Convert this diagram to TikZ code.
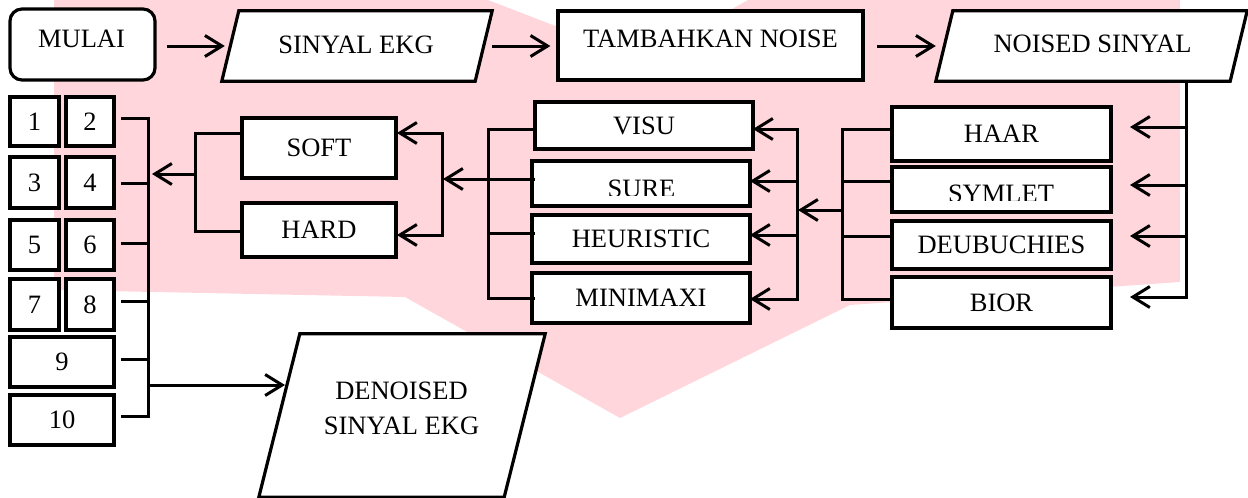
\documentclass[tikz,border=0pt]{standalone}
\usepackage{fontspec}
\setmainfont{Liberation Serif}
\usetikzlibrary{arrows.meta}
\definecolor{wm}{RGB}{255,214,220}
\begin{document}
\begin{tikzpicture}[x=1pt,y=-1pt,
  box/.style={draw, line width=3.2pt, fill=white, inner sep=0pt, font=\fontsize{26.5}{30}\selectfont},
  pframe/.style={inner sep=0pt},
  para/.style={draw, line width=3.2pt, fill=white, line join=miter},
  lbl/.style={inner sep=0pt, font=\fontsize{26.5}{30}\selectfont},
  ln/.style={line width=3pt, line cap=rect},
  arr/.style={line width=3pt, line cap=rect, -{Straight Barb[length=17pt,width=21pt]}},
]
\useasboundingbox (0,0) rectangle (1248,498);
% watermark
\fill[wm] (54,0) -- (488,0) -- (558,27) -- (700,27) -- (748,0) -- (1180,0) -- (1180,282)
  -- (850,305) -- (620,418) -- (405,297) -- (54,290) -- cycle;

% ---------- top row ----------
\node[box, rounded corners=12pt, minimum width=145pt, minimum height=71pt] (mulai) at (82.5,44.5) {};
\node[lbl] (mulaiT) at (81.5,39) {MULAI};

\node[pframe, minimum width=270pt, minimum height=70pt] (sinyal) at (357,46) {};
\draw[para] ([xshift=17pt]sinyal.north west) -- (sinyal.north east) -- ([xshift=-17pt]sinyal.south east) -- (sinyal.south west) -- cycle;
\node[lbl] (sinyalT) at (356,45) {SINYAL EKG};

\node[box, minimum width=305pt, minimum height=69pt] (tambah) at (710.5,45.5) {};
\node[lbl] (tambahT) at (710.5,38.5) {TAMBAHKAN NOISE};

\node[pframe, minimum width=311pt, minimum height=70pt] (noised) at (1091.5,46) {};
\draw[para] ([xshift=17pt]noised.north west) -- (noised.north east) -- ([xshift=-17pt]noised.south east) -- (noised.south west) -- cycle;
\node[lbl] (noisedT) at (1092.5,44) {NOISED SINYAL};

% ---------- wavelets ----------
\node[box, minimum width=219pt, minimum height=54pt] (haar) at (1001.5,134) {HAAR};
\node[box, minimum width=219pt, minimum height=45pt] (symlet) at (1001.5,189.5) {};
\begin{scope}
  \clip (892,167) rectangle (1111,200.5);
  \node[lbl] (symletT) at (1001,194) {SYMLET};
\end{scope}
\node[box, minimum width=219pt, minimum height=48pt] (deub) at (1001.5,245) {DEUBUCHIES};
\node[box, minimum width=219pt, minimum height=51pt] (bior) at (1001.5,302.5) {BIOR};

% ---------- thresholds ----------
\node[box, minimum width=218pt, minimum height=47pt] (visu) at (644,125.5) {VISU};
\node[box, minimum width=218pt, minimum height=45pt] (sure) at (641,183.5) {};
\begin{scope}
  \clip (532,161) rectangle (750,195);
  \node[lbl] (sureT) at (641.5,188.5) {SURE};
\end{scope}
\node[box, minimum width=218pt, minimum height=48pt] (heur) at (641,239) {HEURISTIC};
\node[box, minimum width=218pt, minimum height=50pt] (mini) at (641,298) {MINIMAXI};

% ---------- soft / hard ----------
\node[box, minimum width=154pt, minimum height=60pt] (soft) at (319,148) {SOFT};
\node[box, minimum width=154pt, minimum height=54pt] (hard) at (319,230) {HARD};

% ---------- numbers ----------
\node[box, minimum width=49pt, minimum height=49pt] (b1) at (34.5,121.5) {1};
\node[box, minimum width=48pt, minimum height=49pt] (b2) at (90,121.5) {2};
\node[box, minimum width=49pt, minimum height=51pt] (b3) at (34.5,182.5) {3};
\node[box, minimum width=48pt, minimum height=51pt] (b4) at (90,182.5) {4};
\node[box, minimum width=49pt, minimum height=50pt] (b5) at (34.5,245) {5};
\node[box, minimum width=48pt, minimum height=50pt] (b6) at (90,245) {6};
\node[box, minimum width=49pt, minimum height=51pt] (b7) at (34.5,304.5) {7};
\node[box, minimum width=48pt, minimum height=51pt] (b8) at (90,304.5) {8};
\node[box, minimum width=104pt, minimum height=50pt] (b9) at (62,362) {9};
\node[box, minimum width=104pt, minimum height=50pt] (b10) at (62,420) {10};

% ---------- denoised ----------
\node[pframe, minimum width=286pt, minimum height=163pt] (denoised) at (402,415.5) {};
\draw[para] ([xshift=41pt]denoised.north west) -- (denoised.north east) -- ([xshift=-41pt]denoised.south east) -- (denoised.south west) -- cycle;
\node[lbl, align=center, font=\fontsize{26.5}{35.5}\selectfont] (denoisedT) at (401.5,408.5) {DENOISED\\SINYAL EKG};

% ---------- connectors: top row ----------
\draw[arr, shorten <=12pt] (mulai.east |- sinyal.west) -- ([xshift=3pt]sinyal.west);
\draw[arr, shorten <=1pt, shorten >=6pt] (sinyal.east) -- (tambah.west |- sinyal.east);
\draw[arr, shorten <=14pt] (tambah.east |- noised.west) -- (noised.west);

% right bus (noised -> wavelets)
\coordinate (rbT) at (1186,81);
\coordinate (tHaar) at (1130,127);
\coordinate (tSym) at (1130,185);
\coordinate (tDeu) at (1130,236);
\coordinate (tBior) at (1130,297);
\draw[arr] (rbT) |- (tBior);
\foreach \t in {tHaar,tSym,tDeu} \draw[arr] (\t -| rbT) -- (\t);

% wavelet left bus
\coordinate (wbus) at (842,129);
\coordinate (wl1) at (888,129);
\coordinate (wl2) at (888,181);
\coordinate (wl3) at (888,236);
\coordinate (wl4) at (888,299);
\draw[ln] (wl1) -- (wbus) |- (wl4);
\draw[ln] (wl2) -- (wl2 -| wbus);
\draw[ln] (wl3) -- (wl3 -| wbus);
\coordinate (wArr) at (798,210);
\draw[arr] (wArr -| wbus) -- (wArr);

% threshold right bus
\coordinate (tbus) at (797,129);
\coordinate (aVisu) at (753,129);
\coordinate (aSure) at (750,181);
\coordinate (aHeur) at (750,235);
\coordinate (aMini) at (750,299);
\draw[arr] (aMini -| tbus) |- (aVisu);
\draw[arr] (aMini -| tbus) -- (aMini);
\foreach \t in {aSure,aHeur} \draw[arr] (\t -| tbus) -- (\t);

% threshold left bus
\coordinate (tlbus) at (488,129);
\coordinate (tlV) at (533,129);
\coordinate (tlS) at (533,179);
\coordinate (tlH) at (533,233);
\coordinate (tlM) at (533,298);
\draw[ln] (tlV) -- (tlbus) |- (tlM);
\draw[ln] (tlH) -- (tlH -| tlbus);
\coordinate (sArr) at (443,179);
\draw[arr] (tlS) -- (sArr);

% soft/hard right bus
\coordinate (shbus) at (442,133);
\coordinate (aSoft) at (397,133);
\coordinate (aHard) at (397,235);
\draw[arr] (aHard -| shbus) |- (aSoft);
\draw[arr] (aHard -| shbus) -- (aHard);

% soft/hard left bus
\coordinate (slbus) at (195,133);
\coordinate (slS) at (242,133);
\coordinate (slH) at (242,231);
\draw[ln] (slS) -- (slbus) |- (slH);
\coordinate (nArr) at (152,174);
\draw[arr] (nArr -| slbus) -- (nArr);

% number bus
\coordinate (nbus) at (148,118);
\coordinate (n2) at (122,118);
\coordinate (n4) at (122,183);
\coordinate (n6) at (122,243);
\coordinate (n8) at (122,301);
\coordinate (n9) at (122,359);
\coordinate (n10) at (122,416);
\draw[ln] (n2) -- (nbus) |- (n10);
\foreach \t in {n4,n6,n8,n9} \draw[ln] (\t) -- (\t -| nbus);
\coordinate (dArr) at (285,385);
\draw[arr] (dArr -| nbus) -- (dArr);
\end{tikzpicture}
\end{document}
